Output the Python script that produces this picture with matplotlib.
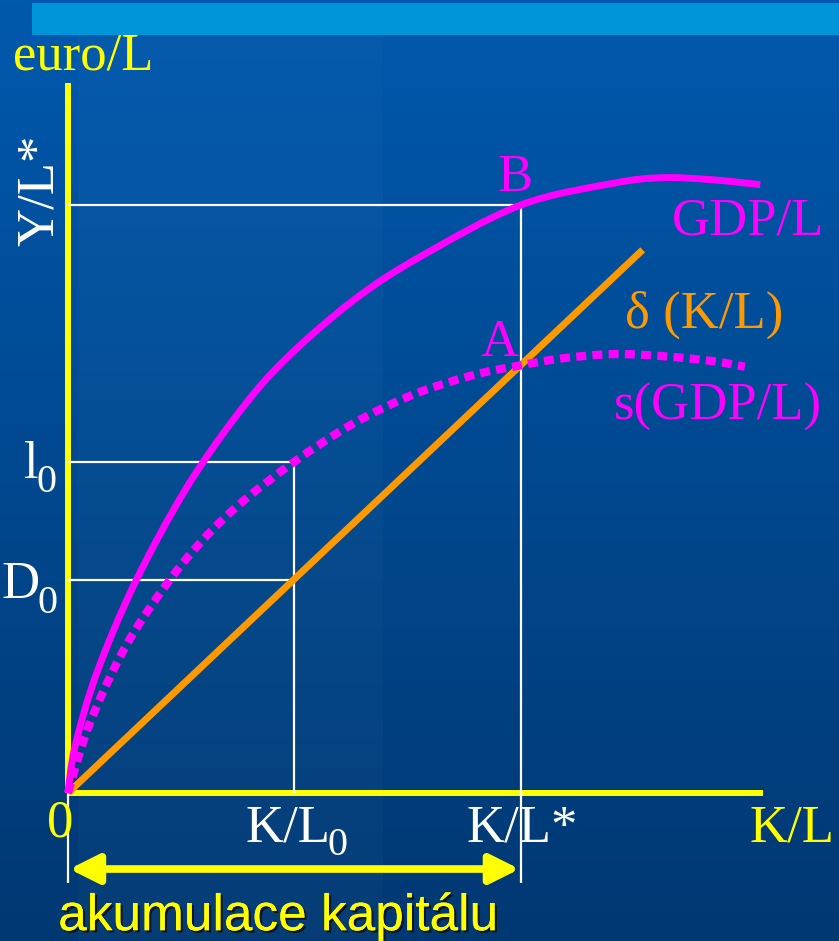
import numpy as np
import matplotlib
matplotlib.use("Agg")
import matplotlib.pyplot as plt
import matplotlib.patheffects as pe
from matplotlib.colors import LinearSegmentedColormap
from matplotlib.path import Path
from matplotlib.patches import PathPatch

# ---------------- data (K/L on x, euro/L on y) ----------------
gdp_x = [0, 0.10, 0.41, 0.96, 1.70, 2.46, 3.12, 4.08, 5.03, 6.47, 7.79, 8.50, 9.21, 9.89]
gdp_y = [0, 0.66, 1.71, 3.01, 4.37, 5.46, 6.21, 7.04, 7.66, 8.40, 8.71, 8.79, 8.76, 8.69]

sav_x = [0, 0.29, 0.74, 1.20, 1.77, 2.41, 3.23, 4.08, 4.93, 5.79, 6.47, 7.07, 7.79,
         8.50, 9.21, 9.67]
sav_y = [0, 0.94, 1.94, 2.69, 3.44, 4.09, 4.73, 5.28, 5.69, 5.97, 6.11, 6.21, 6.27,
         6.24, 6.17, 6.09]

dep_x = [0, 8.21]
dep_y = [0, 7.76]

kl0 = 3.23       # K/L_0
kl_star = 6.47   # K/L*
y_star = 8.40    # Y/L*
i0 = 4.73        # l_0
d0 = 3.05        # D_0

x_axis_end = 9.93
y_axis_end = 10.14
guide_bottom = -1.29
arrow_y = -1.086

# ---------------- styling ----------------
YELLOW = "#FFFF00"
MAGENTA = "#FF00FF"
ORANGE = "#FF9900"
WHITE = "#FFFFFF"
SERIF = ["Liberation Serif", "DejaVu Serif"]
SANS = ["Liberation Sans", "DejaVu Sans"]

W, H = 839, 941
fig = plt.figure(figsize=(W / 100, H / 100), dpi=100)

# background gradient
bg = fig.add_axes([0, 0, 1, 1])
cmap = LinearSegmentedColormap.from_list("bg", ["#003872", "#0059AE"])
grad = np.linspace(0, 1, 256).reshape(-1, 1)
bg.imshow(grad, extent=[0, 1, 0, 1], aspect="auto", cmap=cmap, origin="lower")
bg.add_patch(plt.Rectangle((78 / W, 0), (383 - 78) / W, 1 - 3 / H,
                           color="white", alpha=0.025, lw=0))
bg.add_patch(plt.Rectangle((32 / W, 1 - 35 / H), 1 - 32 / W, 32 / H,
                           color="#0094D9", lw=0))
bg.set_xlim(0, 1)
bg.set_ylim(0, 1)
bg.axis("off")

# main axes: origin at pixel (68, 793)
ax = fig.add_axes([68 / W, (H - 793) / H, 700 / W, 700 / H])
ax.set_xlim(0, 10)
ax.set_ylim(0, 10)
ax.axis("off")
ax.patch.set_alpha(0)


def smooth_path(xs, ys):
    """Catmull-Rom curve through the given points, as cubic Bezier path."""
    P = np.column_stack([xs, ys]).astype(float)
    n = len(P)
    verts = [P[0]]
    codes = [Path.MOVETO]
    for i in range(n - 1):
        p0 = P[i - 1] if i > 0 else P[i]
        p1, p2 = P[i], P[i + 1]
        p3 = P[i + 2] if i + 2 < n else P[i + 1]
        verts += [p1 + (p2 - p0) / 6.0, p2 - (p3 - p1) / 6.0, p2]
        codes += [Path.CURVE4] * 3
    return Path(verts, codes)


# yellow axes
ax.plot([0, 0], [0, y_axis_end], color=YELLOW, lw=4.3, solid_capstyle="butt", clip_on=False, zorder=2)
ax.plot([0, x_axis_end], [0, 0], color=YELLOW, lw=4.3, solid_capstyle="butt", clip_on=False, zorder=2)

# white guide lines
wl = dict(color=WHITE, lw=1.6, clip_on=False, zorder=3, solid_capstyle="butt")
ax.plot([0, kl_star], [y_star, y_star], **wl)
ax.plot([kl_star, kl_star], [guide_bottom, y_star], **wl)
ax.plot([0, kl0], [i0, i0], **wl)
ax.plot([0, kl0], [d0, d0], **wl)
ax.plot([kl0, kl0], [0, i0], **wl)
ax.plot([0, 0], [guide_bottom, 0], **wl)

# curves
ax.plot(dep_x, dep_y, color=ORANGE, lw=5.0, solid_capstyle="butt", clip_on=False, zorder=4)
ax.add_patch(PathPatch(smooth_path(sav_x, sav_y), fill=False, edgecolor=MAGENTA, lw=6.0,
                       linestyle=(0, (1.2, 0.75)), capstyle="butt", clip_on=False, zorder=5))
ax.add_patch(PathPatch(smooth_path(gdp_x, gdp_y), fill=False, edgecolor=MAGENTA, lw=5.0,
                       capstyle="butt", joinstyle="round", clip_on=False, zorder=5))

# arrow
ax.annotate("", xy=(kl_star, arrow_y), xytext=(0, arrow_y),
            arrowprops=dict(arrowstyle="<|-|>,head_length=1.1,head_width=0.55",
                            mutation_scale=16, lw=5.5, color=YELLOW,
                            shrinkA=1, shrinkB=1),
            annotation_clip=False, zorder=6)

# texts
fs = 38
fs_sub = 29
def T(x, y, s, color, **kw):
    kw.setdefault("family", SERIF)
    kw.setdefault("fontsize", fs)
    ax.text(x, y, s, color=color, clip_on=False, **kw)

T(-0.786, 10.33, "euro/L", YELLOW, ha="left", va="baseline")
T(-0.40, 8.61, "Y/L*", WHITE, ha="center", va="center", rotation=90)
T(6.39, 8.79, "B", MAGENTA, ha="center", va="center")
T(8.63, 8.16, "GDP/L", MAGENTA, ha="left", va="center")
T(7.96, 6.83, "δ (K/L)", ORANGE, ha="left", va="center")
T(6.17, 6.43, "A", MAGENTA, ha="center", va="center")
T(7.80, 5.51, "s(GDP/L)", MAGENTA, ha="left", va="center")

T(-0.63, 4.50, "l", WHITE, ha="left", va="baseline")
T(-0.45, 4.30, "0", WHITE, ha="left", va="baseline", fontsize=fs_sub)
T(-0.95, 2.786, "D", WHITE, ha="left", va="baseline")
T(-0.43, 2.571, "0", WHITE, ha="left", va="baseline", fontsize=fs_sub)

T(-0.11, -0.44, "0", YELLOW, ha="center", va="center")
T(2.53, -0.70, "K/L", WHITE, ha="left", va="baseline")
T(3.71, -0.886, "0", WHITE, ha="left", va="baseline", fontsize=fs_sub)
T(5.69, -0.70, "K/L*", WHITE, ha="left", va="baseline")
T(9.74, -0.70, "K/L", YELLOW, ha="left", va="baseline")
T(-0.14, -1.96, "akumulace kapitálu", YELLOW, ha="left", va="baseline",
  family=SANS, fontsize=37,
  path_effects=[pe.withSimplePatchShadow(offset=(1.6, -1.6), shadow_rgbFace="#101010", alpha=0.9),
                pe.Normal()])

fig.savefig("out.png", dpi=100)
